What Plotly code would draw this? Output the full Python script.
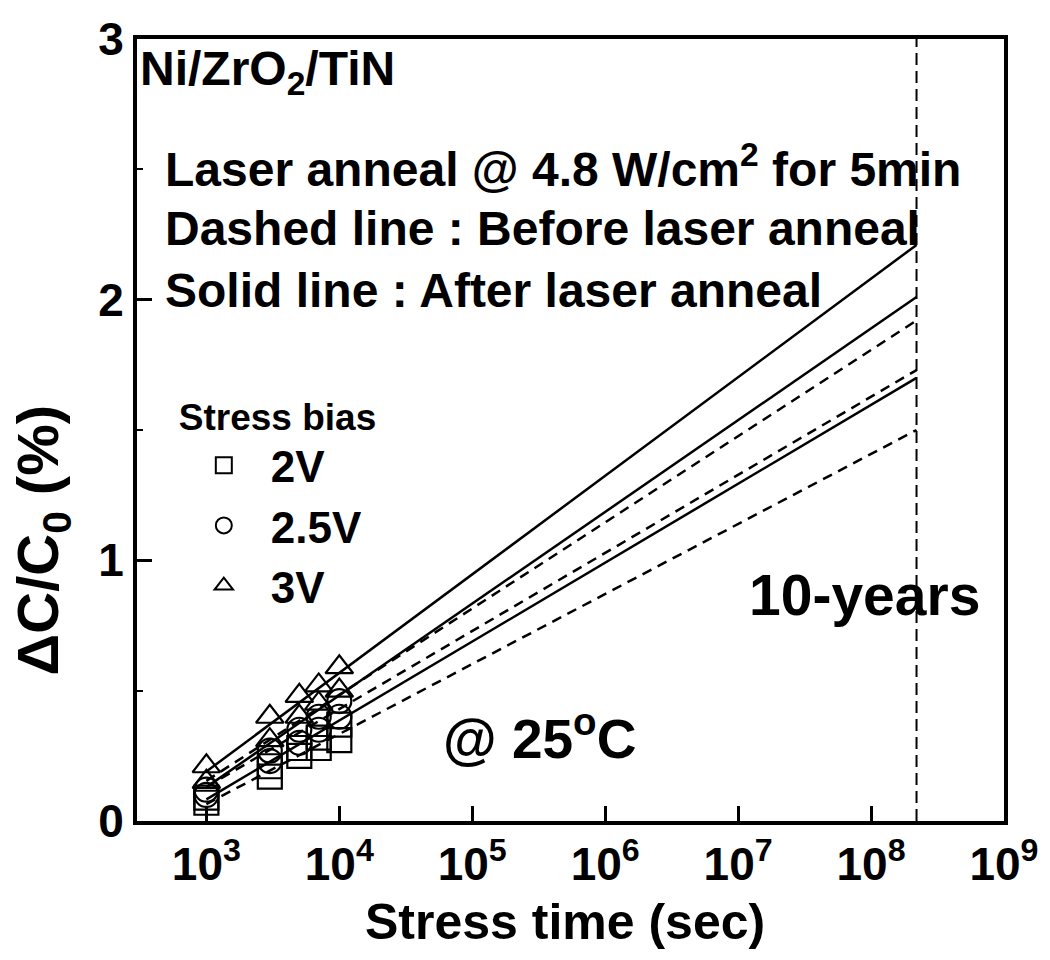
import plotly.graph_objects as go

# ---------------- data ----------------
stress_time = [1e3, 3e3, 5e3, 7e3, 1e4]          # sec

before_2v = [0.07, 0.17, 0.25, 0.28, 0.31]
before_25v = [0.10, 0.23, 0.30, 0.35, 0.40]
before_3v = [0.15, 0.31, 0.40, 0.45, 0.50]
after_2v = [0.09, 0.21, 0.28, 0.32, 0.37]
after_25v = [0.12, 0.27, 0.35, 0.40, 0.46]
after_3v = [0.21, 0.40, 0.48, 0.52, 0.59]

fit_time = [1e3, 2.2e8]                           # extrapolation to 10 years
fit_before_2v = [0.065, 1.50]
fit_before_25v = [0.13, 1.73]
fit_before_3v = [0.154, 1.92]
fit_after_2v = [0.083, 1.70]
fit_after_25v = [0.13, 2.01]
fit_after_3v = [0.19, 2.21]

ten_years = 2.2e8
y_span = [0, 3]

x_tickvals = [1e3, 1e4, 1e5, 1e6, 1e7, 1e8, 1e9]
x_ticktext = ["10<sup>3</sup>", "10<sup>4</sup>", "10<sup>5</sup>", "10<sup>6</sup>",
              "10<sup>7</sup>", "10<sup>8</sup>", "10<sup>9</sup>"]
y_tickvals = [0, 1, 2, 3]
y_minor = [0.5, 1.5, 2.5]

bias_labels = ["2V", "2.5V", "3V"]
symbols = ["square-open", "circle-open", "triangle-up-open"]

FONT = "Liberation Sans, Arial, sans-serif"
BLACK = "black"

fig = go.Figure()

# fit lines
for vals, dash in [(fit_after_3v, "solid"), (fit_after_25v, "solid"), (fit_after_2v, "solid"),
                   (fit_before_3v, "10px,7px"), (fit_before_25v, "10px,7px"), (fit_before_2v, "10px,7px")]:
    fig.add_trace(go.Scatter(x=fit_time, y=vals, mode="lines", showlegend=False,
                             line=dict(color=BLACK, width=2.5, dash=dash)))

# data points
series = [(before_2v, 0), (after_2v, 0), (before_25v, 1), (after_25v, 1), (before_3v, 2), (after_3v, 2)]
for vals, k in series:
    fig.add_trace(go.Scatter(x=stress_time, y=vals, mode="markers", showlegend=False,
                             marker=dict(symbol=symbols[k], size=24, color=BLACK,
                                         line=dict(color=BLACK, width=2.2))))

# legend entries
for k, lab in enumerate(bias_labels):
    fig.add_trace(go.Scatter(x=[None], y=[None], mode="markers", name=lab,
                             marker=dict(symbol=symbols[k], size=16, color=BLACK,
                                         line=dict(color=BLACK, width=2))))

# 10-year line
fig.add_trace(go.Scatter(x=[ten_years, ten_years], y=y_span, mode="lines", showlegend=False,
                         line=dict(color=BLACK, width=2, dash="12px,6px")))

L, R, T, B = 137, 42, 39, 139
W, H = 1050, 960
PW, PH = W - L - R, H - T - B


def px(x):
    return (x - L) / PW


def py(y):
    return (H - B - y) / PH


def ann(text, x, y, size, xanchor="left", angle=0):
    fig.add_annotation(text=text, x=px(x), y=py(y), xref="paper", yref="paper",
                       xanchor=xanchor, yanchor="middle", showarrow=False, textangle=angle,
                       font=dict(family=FONT, size=size, color=BLACK, weight="bold"))


ann("Ni/ZrO<sub>2</sub>/TiN", 138, 72, 48)
ann("Laser anneal @ 4.8 W/cm<sup>2</sup> for 5min", 163, 166, 48)
ann("Dashed line : Before laser anneal", 163, 228, 48)
ann("Solid line : After laser anneal", 163, 290, 48)
ann("10-years", 750, 595, 57)
ann("@ 25<sup>o</sup>C", 442, 735, 55)
ann("Stress time (sec)", 567, 922, 50, xanchor="center")
ann("ΔC/C<sub>0</sub> (%)", 42, 540, 58, xanchor="center", angle=-90)

fig.update_layout(
    width=W, height=H,
    margin=dict(l=L, r=R, t=T, b=B),
    paper_bgcolor="white", plot_bgcolor="white",
    showlegend=True,
    legend=dict(x=px(177), y=py(382), xanchor="left", yanchor="top",
                bgcolor="rgba(0,0,0,0)", borderwidth=0, itemwidth=84,
                title=dict(text="Stress bias", font=dict(family=FONT, size=37, color=BLACK, weight="bold")),
                font=dict(family=FONT, size=44, color=BLACK, weight="bold")),
    xaxis=dict(type="log", range=[2.478, 9.0005], showline=True, linewidth=4, linecolor=BLACK,
               mirror=True, ticks="inside", ticklen=15, tickwidth=3, tickcolor=BLACK,
               tickvals=x_tickvals, ticktext=x_ticktext, showgrid=False, zeroline=False,
               tickfont=dict(family=FONT, size=46, color=BLACK, weight="bold")),
    yaxis=dict(range=y_span, showline=True, linewidth=4, linecolor=BLACK, mirror=True,
               ticks="inside", ticklen=15, tickwidth=3, tickcolor=BLACK,
               tickvals=y_tickvals, showgrid=False, zeroline=False,
               minor=dict(ticks="inside", tickvals=y_minor, ticklen=6, tickwidth=2, tickcolor=BLACK),
               tickfont=dict(family=FONT, size=46, color=BLACK, weight="bold")),
)

fig.write_html("out.html", config={"displayModeBar": False},
               post_script="document.body.style.margin='0';")
